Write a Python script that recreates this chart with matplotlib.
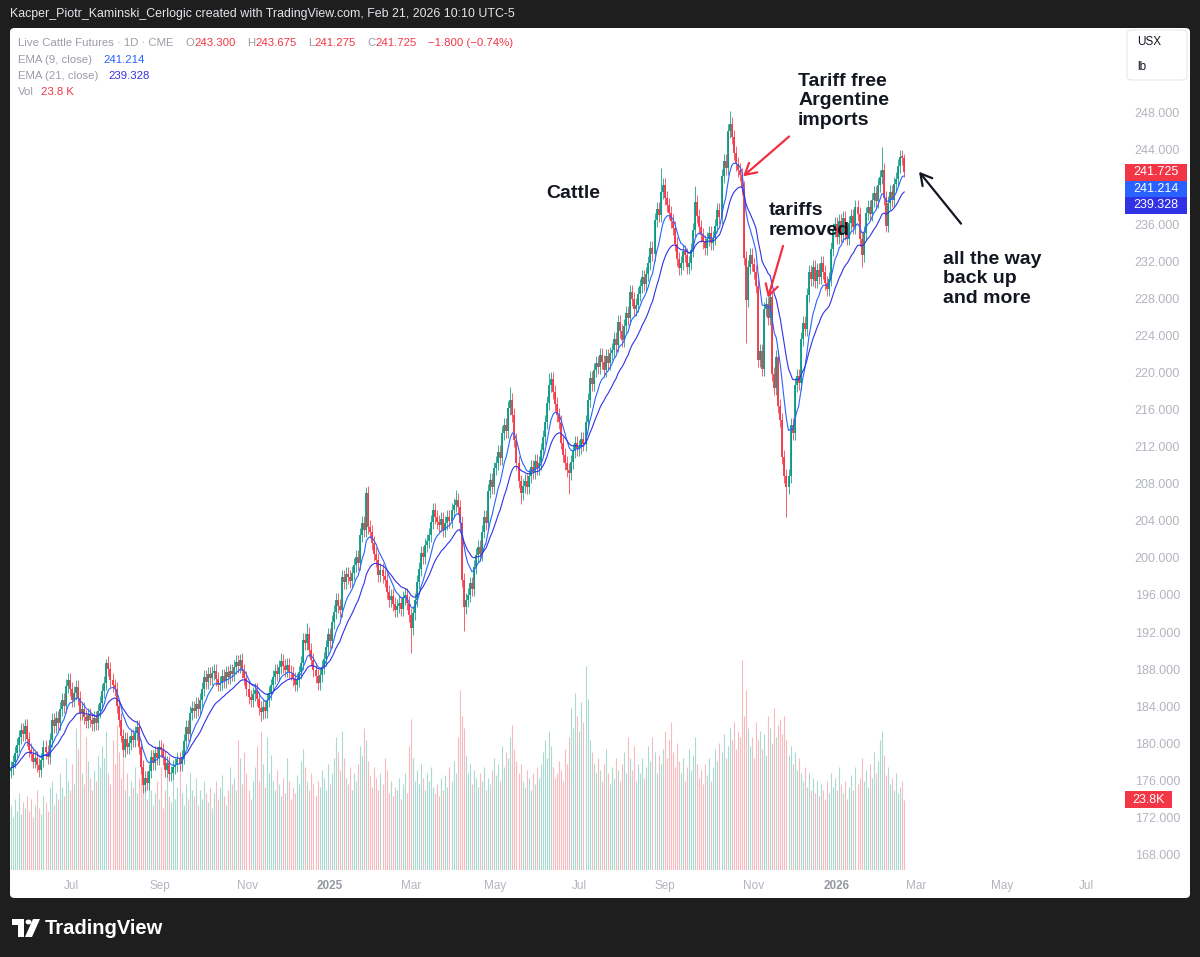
import numpy as np
import pandas as pd
import matplotlib
matplotlib.use("Agg")
import matplotlib.pyplot as plt
from matplotlib.patches import Rectangle, FancyBboxPatch, Polygon, Circle
from matplotlib.transforms import blended_transform_factory

plt.rcParams["font.family"] = ["Liberation Sans", "DejaVu Sans"]

# Live Cattle Futures, daily closes (mid May 2024 -> 20 Feb 2026)
close = [
    177.5, 178.2, 179.1, 180.0, 180.8, 181.6, 181.2, 182.0, 180.6, 179.4,
    179.0, 178.2, 178.6, 177.8, 177.3, 178.4, 179.8, 179.2, 178.7, 180.5,
    182.7, 182.0, 182.9, 182.4, 183.9, 184.8, 184.2, 186.3, 187.0, 186.0,
    184.8, 185.6, 186.2, 185.0, 183.4, 183.9, 183.0, 182.6, 183.2, 182.7,
    182.2, 182.9, 182.4, 183.6, 184.5, 185.8, 186.7, 188.8, 188.2, 187.0,
    186.4, 186.0, 184.2, 182.7, 181.0, 179.4, 180.6, 179.8, 180.2, 181.0,
    180.5, 181.3, 181.9, 179.8, 177.6, 175.7, 176.4, 175.9, 177.2, 178.7,
    178.0, 179.1, 178.6, 179.8, 179.4, 178.6, 177.3, 178.0, 176.8, 177.0,
    177.6, 177.8, 178.5, 177.9, 178.7, 180.4, 181.9, 181.2, 183.4, 184.0,
    183.6, 184.4, 183.9, 184.8, 186.0, 187.3, 186.8, 187.6, 187.2, 187.7,
    188.0, 187.1, 186.5, 186.7, 187.4, 186.9, 187.8, 187.3, 188.0, 187.6,
    188.4, 188.9, 188.5, 189.2, 188.0, 187.2, 186.0, 185.2, 184.8, 185.5,
    185.9, 184.9, 184.0, 183.5, 184.1, 183.6, 184.8, 185.6, 186.4, 187.3,
    188.0, 187.6, 188.4, 189.0, 188.5, 188.1, 188.6, 187.9, 187.7, 187.1,
    186.5, 187.0, 187.8, 188.8, 191.3, 191.0, 192.0, 190.2, 189.2, 188.1,
    187.4, 186.7, 187.5, 188.4, 189.3, 190.5, 191.9, 191.2, 193.2, 194.3,
    195.6, 195.0, 194.5, 198.1, 197.6, 198.4, 198.1, 197.7, 198.5, 199.4,
    200.3, 199.6, 202.6, 203.9, 203.2, 207.2, 203.5, 203.0, 201.8, 200.6,
    199.9, 198.3, 198.9, 198.2, 197.8, 196.5, 195.6, 196.0, 195.2, 194.5,
    195.0, 195.3, 194.6, 195.8, 196.2, 195.3, 194.0, 192.6, 194.2, 195.6,
    197.6, 199.0, 200.7, 200.2, 201.5, 202.0, 202.6, 204.0, 205.3, 204.6,
    204.0, 203.7, 204.4, 203.2, 203.9, 204.6, 204.1, 205.3, 205.9, 206.4,
    205.6, 203.9, 197.8, 194.9, 195.6, 196.2, 197.4, 196.8, 199.2, 200.5,
    201.3, 200.6, 203.0, 204.6, 203.9, 207.4, 208.6, 207.8, 209.8, 210.4,
    211.6, 210.9, 213.6, 214.5, 213.8, 216.3, 217.2, 215.6, 212.9, 210.4,
    208.4, 207.2, 207.9, 208.5, 207.8, 209.0, 210.0, 209.4, 210.6, 209.8,
    210.4, 211.8, 213.2, 214.8, 216.9, 218.8, 219.5, 218.0, 216.8, 215.6,
    214.8, 212.6, 211.3, 210.4, 209.6, 209.3, 210.5, 211.7, 212.6, 211.9,
    212.1, 213.0, 212.4, 214.8, 217.2, 219.6, 218.9, 220.4, 221.2, 220.7,
    222.0, 221.3, 220.4, 221.9, 221.2, 222.2, 222.6, 223.8, 223.1, 225.6,
    224.6, 223.7, 225.2, 226.6, 226.0, 228.8, 228.1, 227.0, 227.4, 228.6,
    229.5, 230.4, 229.7, 230.8, 232.0, 233.6, 232.9, 236.6, 237.8, 237.1,
    239.6, 240.4, 239.0, 238.2, 237.4, 236.5, 235.7, 234.0, 232.4, 231.4,
    232.0, 233.2, 232.8, 231.5, 232.0, 233.4, 235.5, 238.5, 237.0, 235.8,
    235.0, 234.2, 233.6, 234.5, 235.2, 234.1, 234.7, 236.0, 237.7, 236.9,
    241.3, 243.0, 242.2, 246.2, 247.0, 245.5, 243.8, 242.6, 242.0, 241.5,
    240.0, 232.5, 228.0, 231.5, 232.8, 231.8, 231.0, 229.5, 221.5, 222.5,
    220.5, 227.0, 227.5, 226.0, 228.3, 220.0, 218.5, 221.8, 216.5, 215.0,
    211.0, 209.0, 207.8, 209.0, 214.5, 213.6, 218.8, 219.8, 219.0, 223.8,
    225.5, 224.8, 228.5, 231.0, 230.2, 231.5, 230.0, 231.2, 230.4, 232.0,
    231.0, 229.8, 229.2, 230.2, 233.5, 235.5, 236.2, 234.8, 236.5, 235.0,
    236.8, 235.2, 234.6, 236.3, 237.0, 235.8, 238.0, 237.2, 234.5, 232.8,
    235.2, 237.3, 238.0, 237.2, 238.8, 239.5, 238.6, 240.4, 241.2, 242.0,
    239.0, 236.0, 238.4, 239.6, 238.8, 240.5, 241.0, 242.4, 243.4, 243.3,
    241.725,
]
first_open = 177.2

# visible long wicks (bar index -> price)
wick_high = {47: 189.3, 113: 189.8, 133: 189.9, 146: 193.1, 175: 207.8, 219: 207.5,
             246: 218.6, 265: 220.1, 320: 242.2, 337: 240.3, 354: 248.3, 429: 244.5,
             440: 243.675}
wick_low = {65: 174.8, 123: 182.6, 197: 189.9, 223: 192.3, 251: 206.0, 275: 207.0,
            362: 223.3, 382: 204.6, 419: 231.5, 440: 241.275}

# volume, thousands of contracts
volume = [
    22, 18, 24, 20, 26, 19, 23, 21, 25, 20,
    24, 18, 22, 27, 21, 19, 25, 23, 20, 28,
    30, 22, 26, 24, 33, 28, 25, 38, 30, 27,
    36, 29, 48, 41, 52, 33, 29, 45, 37, 31,
    27, 34, 30, 39, 35, 42, 38, 47, 33, 29,
    44, 36, 49, 40, 31, 38, 27, 33, 25, 30,
    28, 35, 26, 31, 42, 37, 29, 24, 33, 27,
    22, 26, 30, 24, 35, 21, 27, 32, 25, 23,
    30, 24, 28, 35, 26, 22, 29, 24, 33, 27,
    25, 31, 22, 27, 24, 30, 26, 23, 28, 21,
    26, 30, 24, 28, 32, 25, 22, 27, 35, 29,
    31, 27, 44, 38, 29, 40, 33, 27, 24, 30,
    35, 42, 30, 47, 36, 28, 45, 33, 39, 30,
    27, 34, 29, 25, 31, 26, 38, 30, 24, 28,
    26, 32, 29, 37, 41, 35, 30, 27, 33, 29,
    25, 30, 28, 34, 31, 27, 36, 29, 33, 38,
    45, 40, 34, 47, 38, 31, 29, 35, 27, 33,
    30, 36, 42, 39, 48, 44, 37, 32, 28, 35,
    31, 27, 33, 29, 38, 34, 26, 30, 25, 28,
    27, 31, 24, 29, 33, 26, 42, 51, 38, 30,
    34, 29, 36, 31, 27, 33, 30, 35, 28, 26,
    29, 25, 31, 27, 32, 28, 35, 30, 37, 33,
    45, 61, 52, 48, 39, 33, 36, 29, 34, 31,
    28, 33, 30, 35, 27, 31, 29, 34, 38, 32,
    36, 30, 42, 35, 40, 38, 45, 49, 41, 37,
    33, 36, 30, 28, 34, 31, 27, 33, 29, 35,
    31, 36, 40, 44, 38, 47, 42, 35, 31, 33,
    37, 34, 30, 41, 36, 45, 55, 48, 60, 52,
    47, 57, 50, 69, 58, 44, 40, 36, 33, 38,
    34, 30, 36, 41, 33, 29, 35, 31, 38, 34,
    30, 36, 40, 33, 45, 38, 34, 42, 30, 36,
    33, 38, 31, 35, 42, 37, 45, 40, 33, 39,
    36, 41, 47, 38, 44, 50, 40, 35, 43, 37,
    33, 38, 30, 35, 41, 34, 39, 45, 36, 31,
    34, 29, 36, 32, 38, 30, 35, 41, 37, 43,
    40, 46, 38, 42, 48, 44, 50, 41, 47, 45,
    71, 52, 61, 48, 42, 45, 38, 50, 44, 47,
    41, 46, 39, 52, 48, 43, 55, 45, 49, 51,
    46, 52, 44, 39, 42, 36, 40, 34, 38, 33,
    30, 35, 28, 33, 27, 31, 26, 30, 25, 29,
    27, 24, 30, 26, 33, 28, 31, 27, 35, 29,
    26, 30, 24, 28, 32, 27, 35, 29, 31, 38,
    30, 34, 28, 36, 31, 40, 33, 37, 44, 47,
    39, 32, 35, 29, 31, 27, 33, 26, 28, 30,
    23.8,
]

month_labels = ["Jul", "Sep", "Nov", "2025", "Mar", "May", "Jul", "Sep", "Nov", "2026", "Mar", "May", "Jul"]
month_bars = [29.8, 73.4, 116.3, 157.1, 197.0, 238.4, 280.1, 322.2, 366.0, 406.9, 445.8, 488.2, 529.6]

last_ohlc = ("243.300", "243.675", "241.275", "241.725")
last_change = "\u22121.800 (\u22120.74%)"
ema9_last, ema21_last = 241.214, 239.328
last_price = 241.725
vol_last = 23.8

assert len(close) == len(volume)

UP, DOWN = "#089981", "#F23645"
UP_VOL, DOWN_VOL = "#A9DBD3", "#FAB9BE"
EMA9_C, EMA21_C = "#2962FF", "#3131E6"
GREY = "#9a9da6"
AXIS_GREY = "#b2b5be"

W, H = 1200, 957
fig = plt.figure(figsize=(W / 100, H / 100), dpi=100)
fig.patch.set_facecolor("#1e1e1e")


def fx(px):
    return px / W


def fy(py):
    return 1 - py / H


# white chart panel
fig.add_artist(FancyBboxPatch((fx(10), fy(898)), 1180 / W, 870 / H,
                              boxstyle="round,pad=0,rounding_size=0.004",
                              transform=fig.transFigure, fc="white", ec="none", zorder=-5))

ax = fig.add_axes([fx(10), fy(870), 1108 / W, 842 / H])
axv = ax.twinx()
ax.set_zorder(axv.get_zorder() + 1)
ax.patch.set_visible(False)

c = np.array(close)
o = np.r_[first_open, c[:-1]]
x = np.arange(len(c))
hi = np.maximum(o, c) + 0.75
lo = np.minimum(o, c) - 0.75
for k, v in wick_high.items():
    hi[k] = v
for k, v in wick_low.items():
    lo[k] = v
up = c >= o
col = np.where(up, UP, DOWN)

# volume behind price
axv.vlines(x, 0, volume, colors=np.where(up, UP_VOL, DOWN_VOL), linewidth=0.8)
axv.set_ylim(0, 285)
axv.axis("off")

# candles: thin wick + thicker body
body_lo = np.minimum(o, c)
body_hi = np.maximum(body_lo + 0.15, np.maximum(o, c))
ax.vlines(x, lo, hi, colors=col, linewidth=0.55)
ax.vlines(x, body_lo, body_hi, colors=col, linewidth=1.3)

s = pd.Series(c)
ema9 = s.ewm(span=9, adjust=False).mean()
ema21 = s.ewm(span=21, adjust=False).mean()
ax.plot(x, ema9, color=EMA9_C, lw=0.8)
ax.plot(x, ema21, color=EMA21_C, lw=0.8)

ax.set_xlim(-0.5, -0.5 + 1108 / 2.03)
ax.set_ylim(166.5, 257.3)
for sp in ax.spines.values():
    sp.set_visible(False)
ax.tick_params(left=False, labelleft=False, right=False, labelright=False)

ax.set_xticks(month_bars)
ax.set_xticklabels(month_labels)
ax.tick_params(axis="x", length=0, pad=7, labelsize=8.5, colors=AXIS_GREY)
for t in ax.get_xticklabels():
    if t.get_text() in ("2025", "2026"):
        t.set_fontweight("bold")
        t.set_color("#9598a1")

# price scale labels
trans = blended_transform_factory(fig.transFigure, ax.transData)
for v in range(168, 249, 4):
    ax.text(fx(1180), v, f"{v:.3f}", transform=trans, ha="right", va="center",
            fontsize=9, color=AXIS_GREY, clip_on=False)

# last value boxes on the scale
y0 = ax.transData.transform((0, last_price))[1] / H
boxes = [(last_price, DOWN), (ema9_last, EMA9_C), (ema21_last, EMA21_C)]
for k, (val, bc) in enumerate(boxes):
    yc = y0 - k * 16.5 / H
    fig.add_artist(Rectangle((fx(1125), yc - 8.25 / H), 62 / W, 16.5 / H,
                             transform=fig.transFigure, fc=bc, ec="none", zorder=8))
    fig.text(fx(1156), yc, f"{val:.3f}", ha="center", va="center", color="white",
             fontsize=9, zorder=9)
yv = axv.transData.transform((0, vol_last))[1] / H
fig.add_artist(Rectangle((fx(1125), yv - 8.25 / H), 47 / W, 16.5 / H,
                         transform=fig.transFigure, fc=DOWN, ec="none", zorder=8))
fig.text(fx(1148.5), yv, f"{vol_last}K", ha="center", va="center", color="white",
         fontsize=9, zorder=9)

# currency / unit box
fig.add_artist(FancyBboxPatch((fx(1127), fy(80)), 60 / W, 50 / H,
                              boxstyle="round,pad=0,rounding_size=0.004",
                              transform=fig.transFigure, fc="white", ec="#e6e8ee",
                              lw=0.8, zorder=8))
fig.text(fx(1137), fy(42), "USX", fontsize=8.5, color="#131722", va="center", zorder=9)
fig.text(fx(1137), fy(67), "lb", fontsize=8.5, color="#131722", va="center", zorder=9)

# legend, laid out left to right
renderer = fig.canvas.get_renderer()


def legend_row(items, ypx, size=8.2):
    xp = 18
    for txt, color, gap in items:
        t = fig.text(fx(xp), fy(ypx), txt, fontsize=size, color=color, va="center")
        xp = t.get_window_extent(renderer).x1 + gap


legend_row([("Live Cattle Futures \u00b7 1D \u00b7 CME", GREY, 12),
            ("O", GREY, 0.5), (last_ohlc[0], DOWN, 11),
            ("H", GREY, 0.5), (last_ohlc[1], DOWN, 11),
            ("L", GREY, 0.5), (last_ohlc[2], DOWN, 11),
            ("C", GREY, 0.5), (last_ohlc[3], DOWN, 11),
            (last_change, DOWN, 0)], 43)
legend_row([("EMA (9, close)", GREY, 11), (f"{ema9_last:.3f}", EMA9_C, 0)], 60)
legend_row([("EMA (21, close)", GREY, 10), (f"{ema21_last:.3f}", EMA21_C, 0)], 76)
legend_row([("Vol", GREY, 7), (f"{vol_last} K", DOWN, 0)], 92)

# drawings on the chart
note = dict(fontsize=14, fontweight="bold", color="#131722", linespacing=1.2, clip_on=False)
ax.text(387.7, 252.5, "Tariff free\nArgentine\nimports", va="top", **note)
ax.text(263.5, 239.5, "Cattle", va="center", **note)
ax.text(373.4, 238.5, "tariffs\nremoved", va="top", **note)
ax.text(459.1, 233.3, "all the way\nback up\nand more", va="top", **note)

arr = "->,head_length=0.8,head_width=0.45"
ax.annotate("", xy=(360.6, 241.3), xytext=(383.3, 245.6),
            arrowprops=dict(arrowstyle=arr, color="#F2303F", lw=1.6, shrinkA=0, shrinkB=0))
ax.annotate("", xy=(372.9, 228.2), xytext=(380.3, 233.8),
            arrowprops=dict(arrowstyle=arr, color="#F2303F", lw=1.6, shrinkA=0, shrinkB=0))
ax.annotate("", xy=(447.3, 241.8), xytext=(468.0, 236.2),
            arrowprops=dict(arrowstyle=arr, color="#131722", lw=1.6, shrinkA=0, shrinkB=0))

# header and footer
fig.text(fx(10), fy(14), "Kacper_Piotr_Kaminski_Cerlogic created with TradingView.com, Feb 21, 2026 10:10 UTC-5",
         fontsize=8.9, color="#e3e5ea", va="center")

logo = [Polygon([(fx(12), fy(919)), (fx(24), fy(919)), (fx(24), fy(937)), (fx(18), fy(937)),
                 (fx(18), fy(925)), (fx(12), fy(925))], closed=True),
        Circle((fx(28.5), fy(922)), 3 / W),
        Polygon([(fx(33), fy(919)), (fx(40), fy(919)), (fx(32), fy(937)), (fx(25), fy(937))], closed=True)]
for p in logo:
    p.set_transform(fig.transFigure)
    p.set_facecolor("white")
    p.set_edgecolor("none")
    p.set_zorder(6)
    fig.add_artist(p)
fig.text(fx(45), fy(928), "TradingView", fontsize=14.5, fontweight="bold", color="white", va="center")

fig.savefig("out.png", dpi=100, facecolor=fig.get_facecolor())
